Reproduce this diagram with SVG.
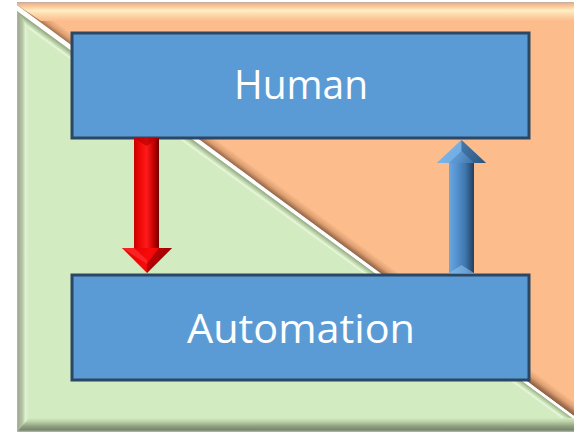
<svg xmlns="http://www.w3.org/2000/svg" width="574" height="433" viewBox="0 0 574 433">
  <style>
    .box { fill: #5b9bd5; stroke: #2c4763; stroke-width: 3; }
    .label { font-family: "Open Sans", "Liberation Sans", sans-serif; font-size: 40px; fill: #ffffff; text-anchor: middle; }
  </style>
  <defs>
    <!-- orange panel: shading perpendicular to the diagonal edge -->
    <linearGradient id="orangeDiag" gradientUnits="userSpaceOnUse" x1="18" y1="9" x2="25.1" y2="-0.7">
      <stop offset="0" stop-color="#8a5e44"/>
      <stop offset="0.2" stop-color="#a06e4e"/>
      <stop offset="0.55" stop-color="#dea072"/>
      <stop offset="1" stop-color="#fcbc8c"/>
    </linearGradient>
    <!-- orange panel: top bevel -->
    <linearGradient id="orangeTop" gradientUnits="userSpaceOnUse" x1="0" y1="2" x2="0" y2="21">
      <stop offset="0" stop-color="#b6aca4"/>
      <stop offset="0.08" stop-color="#e8b594"/>
      <stop offset="0.22" stop-color="#fcc79a"/>
      <stop offset="0.45" stop-color="#fff1c6"/>
      <stop offset="0.65" stop-color="#fedcae"/>
      <stop offset="1" stop-color="#fcbc8c"/>
    </linearGradient>
    <!-- green panel: shading perpendicular to the diagonal edge -->
    <linearGradient id="greenDiag" gradientUnits="userSpaceOnUse" x1="18" y1="10" x2="11.5" y2="18.9">
      <stop offset="0" stop-color="#7f9270"/>
      <stop offset="0.3" stop-color="#a6bb95"/>
      <stop offset="0.55" stop-color="#c9e0b5"/>
      <stop offset="0.72" stop-color="#e8f7dc"/>
      <stop offset="0.88" stop-color="#d3ebc1"/>
      <stop offset="1" stop-color="#d3ebc1"/>
    </linearGradient>
    <!-- green panel: left bevel -->
    <linearGradient id="greenLeft" gradientUnits="userSpaceOnUse" x1="17" y1="0" x2="29" y2="0">
      <stop offset="0" stop-color="#b3b8ab"/>
      <stop offset="0.12" stop-color="#a3ad95"/>
      <stop offset="0.45" stop-color="#b4c6a3"/>
      <stop offset="0.7" stop-color="#e0f1d2"/>
      <stop offset="1" stop-color="#d3ebc1"/>
    </linearGradient>
    <!-- green panel: bottom bevel -->
    <linearGradient id="greenBottom" gradientUnits="userSpaceOnUse" x1="0" y1="418" x2="0" y2="432">
      <stop offset="0" stop-color="#d3ebc1"/>
      <stop offset="0.25" stop-color="#bcd2a9"/>
      <stop offset="0.6" stop-color="#8e9e7e"/>
      <stop offset="0.85" stop-color="#77876a"/>
      <stop offset="1" stop-color="#b9bcb4"/>
    </linearGradient>
    <!-- arrow bodies -->
    <linearGradient id="redShaft" gradientUnits="userSpaceOnUse" x1="134" y1="0" x2="159" y2="0">
      <stop offset="0" stop-color="#c80000"/>
      <stop offset="0.25" stop-color="#f00808"/>
      <stop offset="0.5" stop-color="#ff1a1a"/>
      <stop offset="0.8" stop-color="#c00000"/>
      <stop offset="1" stop-color="#700000"/>
    </linearGradient>
    <linearGradient id="redHead" gradientUnits="userSpaceOnUse" x1="122" y1="248" x2="172" y2="273">
      <stop offset="0" stop-color="#e00000"/>
      <stop offset="0.5" stop-color="#f80a0a"/>
      <stop offset="1" stop-color="#900000"/>
    </linearGradient>
    <linearGradient id="blueShaft" gradientUnits="userSpaceOnUse" x1="449" y1="0" x2="474" y2="0">
      <stop offset="0" stop-color="#6aa8e0"/>
      <stop offset="0.3" stop-color="#5592cf"/>
      <stop offset="0.65" stop-color="#3f77ad"/>
      <stop offset="1" stop-color="#233f5e"/>
    </linearGradient>
    <linearGradient id="blueHead" gradientUnits="userSpaceOnUse" x1="437" y1="140" x2="486" y2="163">
      <stop offset="0" stop-color="#72b0e6"/>
      <stop offset="0.5" stop-color="#5894cf"/>
      <stop offset="1" stop-color="#2f5a86"/>
    </linearGradient>
  </defs>

  <!-- beveled background panels split along the diagonal -->
  <g id="background">
    <polygon points="17,2 574,2 574,416 17,5" fill="url(#orangeDiag)"/>
    <polygon points="17,2 574,2 574,21 41,21 17,5" fill="url(#orangeTop)" opacity="0.95"/>
    <polygon points="17,11 17,432 574,432 574,419" fill="url(#greenDiag)"/>
    <polygon points="17,11 17,432 29,420 29,28" fill="url(#greenLeft)"/>
    <polygon points="17,432 574,432 574,418 29,418" fill="url(#greenBottom)"/>
    <line x1="17" y1="8" x2="574" y2="417.5" stroke="#ffffff" stroke-width="2.6"/>
  </g>

  <g id="node-human">
    <rect class="box" x="72" y="33" width="457" height="105"/>
    <text class="label" x="301" y="99" textLength="134" lengthAdjust="spacingAndGlyphs">Human</text>
  </g>

  <g id="node-automation">
    <rect class="box" x="72" y="275" width="457" height="105"/>
    <text class="label" x="301" y="343" textLength="228" lengthAdjust="spacingAndGlyphs">Automation</text>
  </g>

  <g id="connectors">
    <!-- Human to Automation (red, downward) -->
    <g id="arrow-down">
      <rect x="134" y="138" width="25" height="111" fill="url(#redShaft)"/>
      <polygon points="134,138 159,138 146.5,146" fill="#b80000" opacity="0.7"/>
      <polygon points="122,248 172,248 147,273" fill="url(#redHead)"/>
      <polygon points="122,248 134,248 147,260 147,264" fill="#ff3030" opacity="0.7"/>
      <polygon points="159,248 172,248 147,273 147,264" fill="#8a0000" opacity="0.55"/>
    </g>
    <!-- Automation to Human (blue, upward) -->
    <g id="arrow-up">
      <rect x="449" y="162" width="25" height="111" fill="url(#blueShaft)"/>
      <polygon points="449,273 474,273 461.5,265" fill="#8cc0ec" opacity="0.6"/>
      <polygon points="437,163 486,163 461.5,140" fill="url(#blueHead)"/>
      <polygon points="437,163 449,163 461.5,151 461.5,140" fill="#86bdec" opacity="0.6"/>
      <polygon points="474,163 486,163 461.5,140 461.5,151" fill="#274d74" opacity="0.45"/>
    </g>
  </g>
</svg>
